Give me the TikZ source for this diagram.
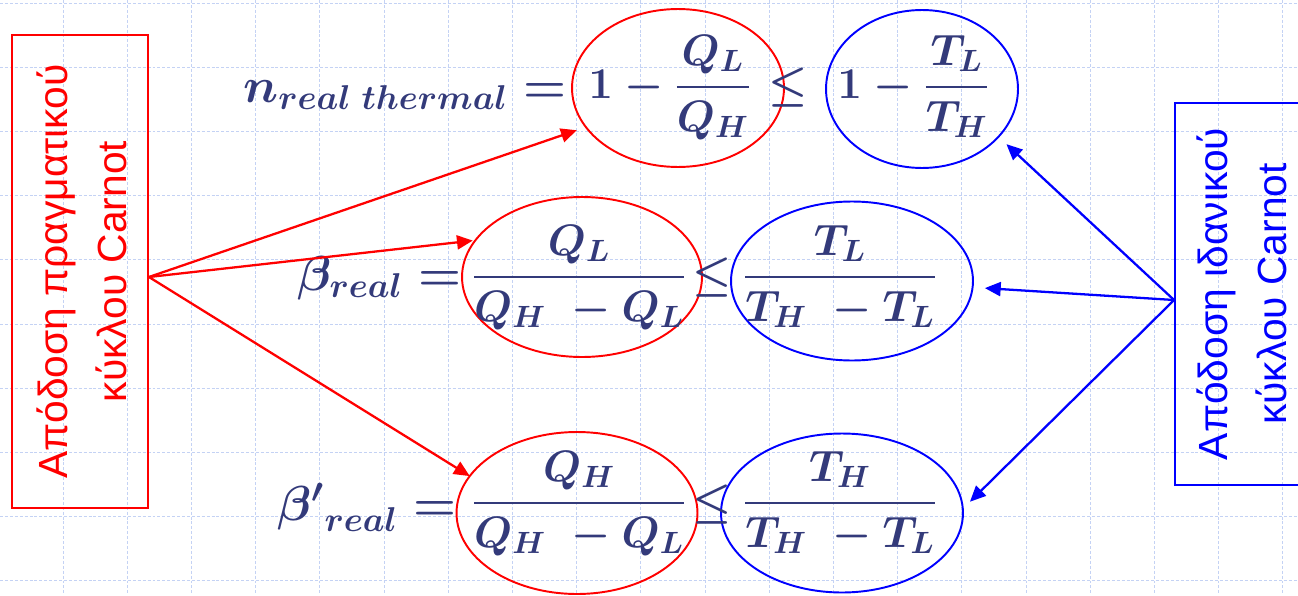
\RequirePackage{fix-cm}
\documentclass[tikz,border=0pt]{standalone}
\usepackage{fontspec}
\newfontfamily\arial{Liberation Sans}
\usepackage{amsmath}
\usetikzlibrary{shapes.geometric,arrows.meta,calc}
\definecolor{navy}{RGB}{51,58,122}
\definecolor{gridc}{RGB}{196,210,244}
\tikzset{
  gridline/.style={draw=gridc, line width=0.5pt, dash pattern=on 1.7pt off 1.1pt},
  ring/.style={ellipse, line width=1.1pt, inner sep=0pt, outer sep=0pt},
  redring/.style={ring, draw=red},
  bluering/.style={ring, draw=blue},
  eq/.style={text=navy, inner sep=0pt, font=\fontsize{25}{30}\selectfont\boldmath},
  lhs/.style={text=navy, inner sep=0pt, font=\fontsize{28}{32}\selectfont\boldmath},
  conn/.style={line width=1.3pt, -{Triangle[length=9pt,width=8pt]}},
  redarrow/.style={conn, draw=red, fill=red},
  bluearrow/.style={conn, draw=blue, fill=blue},
  labelbox/.style={draw, line width=1.1pt, inner sep=0pt, font=\arial\fontsize{23.2}{33.5}\selectfont}
}
\begin{document}
\begin{tikzpicture}[x=0.02cm, y=-0.02cm]
\fill[white] (0,0) rectangle (1298,595);
\useasboundingbox (0,0) rectangle (1298,595);
% grid
\foreach \k in {0,...,20} \draw[gridline] ({-1.2+64.2*\k},0) -- ({-1.2+64.2*\k},595);
\foreach \k in {0,...,9} \draw[gridline] (0,{3+64.2*\k}) -- (1298,{3+64.2*\k});

% boxes
\node[labelbox, draw=red, text=red, minimum width=2.72cm, minimum height=9.46cm] (lbox) at (80,271.5)
  {\kern6.4pt\rotatebox{90}{\begin{tabular}{@{}c@{}}Απόδοση πραγματικού\\κύκλου Carnot\end{tabular}}};
\node[labelbox, draw=blue, text=blue, minimum width=2.8cm, minimum height=7.64cm] (rbox) at (1245,294)
  {\rotatebox{90}{\begin{tabular}{@{}c@{}}Απόδοση ιδανικού\\κύκλου Carnot\end{tabular}}};

% ellipses
\node[redring, minimum width=4.24cm, minimum height=3.16cm] (r1) at (678,88) {};
\node[bluering, minimum width=3.84cm, minimum height=3.16cm] (b1) at (922,89) {};
\node[redring, minimum width=4.80cm, minimum height=3.20cm] (r2) at (582,277) {};
\node[bluering, minimum width=4.84cm, minimum height=3.18cm] (b2) at (852,281) {};
\node[redring, minimum width=4.82cm, minimum height=3.24cm] (r3) at (577,513) {};
\node[bluering, minimum width=4.84cm, minimum height=3.18cm] (b3) at (842,513) {};

% row 1
\node[lhs, anchor=base east] (l1) at (567,102) {$n_{real\;thermal} =$};
\node[eq, anchor=base west] (f1) at (588,98) {$1 - \dfrac{Q_L}{Q_H}$};
\node[eq, anchor=base] (s1) at (788,98) {$\le$};
\node[eq, anchor=base west] (g1) at (837,98) {$1 - \dfrac{T_L}{T_H}$};
% row 2
\node[lhs, anchor=base east] (l2) at (462,290) {$\beta_{real} =$};
\node[eq, anchor=base] (f2) at (579,288) {$\dfrac{Q_L}{Q_H\; - Q_L}$};
\node[eq, anchor=base] (s2) at (712,288) {$\le$};
\node[eq, anchor=base] (g2) at (840,288) {$\dfrac{T_L}{T_H\; - T_L}$};
% row 3
\node[lhs, anchor=base east] (l3) at (457,520) {${\beta'}_{real} =$};
\node[eq, anchor=base] (f3) at (579,514) {$\dfrac{Q_H}{Q_H\; - Q_L}$};
\node[eq, anchor=base] (s3) at (712,515) {$\le$};
\node[eq, anchor=base] (g3) at (840,514) {$\dfrac{T_H}{T_H\; - T_L}$};

% connectors
\draw[redarrow, shorten >=5.5pt] ([yshift=-0.11cm]lbox.east) -- (r1.203.5);
\draw[redarrow, shorten >=1.5pt] ([yshift=-0.11cm]lbox.east) -- (r2.161);
\draw[redarrow] ([yshift=-0.11cm]lbox.east) -- (r3.161);
\draw[bluearrow, shorten >=6.2pt] ([yshift=-0.12cm]rbox.west) -- (b1.328);
\draw[bluearrow, shorten >=7pt] ([yshift=-0.12cm]rbox.west) -- (b2.-3);
\draw[bluearrow, shorten >=5.7pt] ([yshift=-0.12cm]rbox.west) -- (b3.2.6);
\end{tikzpicture}
\end{document}
